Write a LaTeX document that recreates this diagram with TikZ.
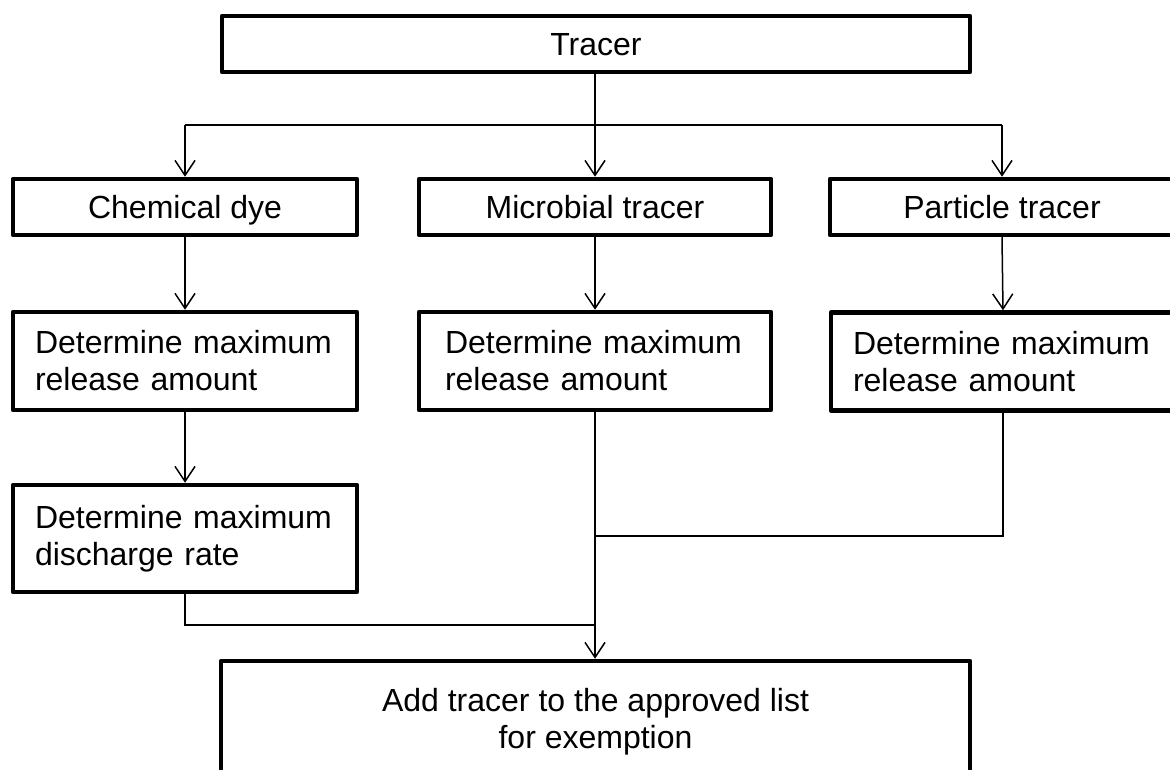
\documentclass[tikz,border=0pt]{standalone}
\usepackage{fontspec}
\setmainfont{Liberation Sans}
\usetikzlibrary{arrows.meta}
\begin{document}
\begin{tikzpicture}[x=1pt,y=-1pt,
  box/.style={draw, line width=4.5pt, line join=round, inner sep=0pt,
    font=\fontsize{32}{37}\selectfont},
  sbox/.style={box, text height=24pt, text depth=0pt},
  lbox/.style={box, align=left, text width=300pt},
  conn/.style={line width=1.5pt},
  arr/.style={conn, -{Straight Barb[length=15pt,width=20pt]}}]
\clip (0,0) rectangle (1170,770);
\node[sbox, minimum width=748pt, minimum height=56pt] (tracer) at (596,44) {Tracer};
\node[sbox, minimum width=344pt, minimum height=56pt] (chem) at (185,207) {Chemical dye};
\node[sbox, minimum width=352pt, minimum height=56pt] (micro) at (595,207) {Microbial tracer};
\node[sbox, minimum width=344pt, minimum height=56pt] (part) at (1002,207) {Particle tracer};
\node[lbox, minimum width=344pt, minimum height=98pt] (det1) at (185,361) {Determine maximum\\release amount};
\node[lbox, minimum width=352pt, minimum height=98pt] (det2) at (595,361) {Determine maximum\\release amount};
\node[lbox, minimum width=344pt, minimum height=98pt] (det3) at (1003,361.5) {Determine maximum\\release amount};
\node[lbox, minimum width=344pt, minimum height=107pt] (dis) at (185,538.5) {Determine maximum\\discharge rate};
\node[box, align=center, minimum width=749pt, minimum height=122pt] (add) at (595.5,722) {Add tracer to the approved list\\for exemption};
\coordinate (bus) at (595,125);
\coordinate (j1) at (595,536);
\coordinate (j2) at (595,625);
\draw[arr] (micro.north |- tracer.south) -- (micro.north);
\draw[conn] (chem.north |- bus) -- (part.north |- bus);
\draw[arr] (chem.north |- bus) -- (chem.north);
\draw[arr] (part.north |- bus) -- (part.north);
\draw[arr] (chem.south) -- (det1.north);
\draw[arr] (micro.south) -- (det2.north);
\draw[arr] (part.south) -- (det3.north);
\draw[arr] (det1.south) -- (dis.north);
\draw[conn] (det3.south) |- (j1);
\draw[conn] (dis.south) |- (j2);
\draw[arr] (det2.south) -- (add.north -| det2.south);
\end{tikzpicture}
\end{document}
